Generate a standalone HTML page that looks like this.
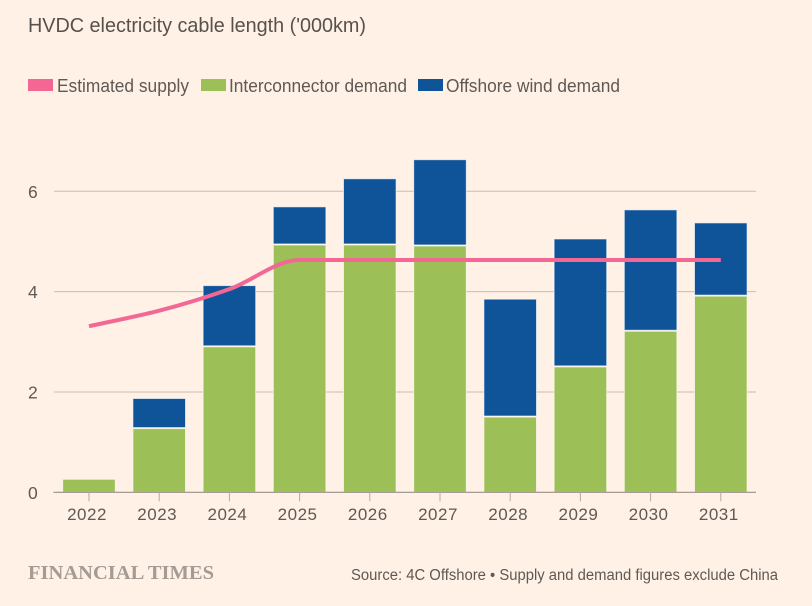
<!DOCTYPE html>
<html lang="en">
<head>
<meta charset="utf-8">
<title>HVDC electricity cable length</title>
<style>
html,body{margin:0;padding:0;background:#fff1e5;}
body{width:812px;height:606px;overflow:hidden;}
svg{display:block;font-family:"Liberation Sans",sans-serif;}
</style>
</head>
<body>
<svg id="chart" width="812" height="606" viewBox="0 0 812 606" xmlns="http://www.w3.org/2000/svg">
  <rect x="0" y="0" width="812" height="606" fill="#fff1e5"/>
  <text x="28" y="32" font-size="20" fill="#57514d" textLength="338" lengthAdjust="spacingAndGlyphs">HVDC electricity cable length ('000km)</text>
  <g>
    <g>
      <rect x="28" y="79" width="25" height="12" fill="#f36795"/>
      <text x="57" y="92" font-size="18.5" fill="#5f5955" textLength="132" lengthAdjust="spacingAndGlyphs">Estimated supply</text>
    </g>
    <g>
      <rect x="201" y="79" width="25" height="12" fill="#9dbf57"/>
      <text x="229" y="92" font-size="18.5" fill="#5f5955" textLength="178" lengthAdjust="spacingAndGlyphs">Interconnector demand</text>
    </g>
    <g>
      <rect x="418" y="79" width="25" height="12" fill="#0f5499"/>
      <text x="446" y="92" font-size="18.5" fill="#5f5955" textLength="174" lengthAdjust="spacingAndGlyphs">Offshore wind demand</text>
    </g>
  </g>
  <g id="grid"></g>
  <g id="ylabels"></g>
  <g id="bars"></g>
  <g id="xaxis"></g>
  <path id="supply" fill="none" stroke="#f36795" stroke-width="4"/>
  <text x="28" y="579" font-family="'Liberation Serif',serif" font-weight="bold" font-size="20.5" fill="#a39b94" textLength="186" lengthAdjust="spacingAndGlyphs">FINANCIAL TIMES</text>
  <text x="351" y="580" font-size="15.5" fill="#5f5955" textLength="427" lengthAdjust="spacingAndGlyphs">Source: 4C Offshore • Supply and demand figures exclude China</text>
</svg>
<script>
const years = ['2022','2023','2024','2025','2026','2027','2028','2029','2030','2031'];
const interconnector = [0.26,1.27,2.90,4.93,4.93,4.91,1.50,2.50,3.21,3.91];
const offshore = [0,0.60,1.22,0.76,1.32,1.72,2.35,2.55,2.42,1.46];
const supply = [3.31,3.62,4.05,4.63,4.63,4.63,4.63,4.63,4.63,4.63];
const yTicks = [0,2,4,6];

const SVGNS = 'http://www.w3.org/2000/svg';
const xBand = i => 89 + 70.2 * i;
const yScale = v => 492.3 - 50.17 * v;
const barWidth = 52.6;

function make(parent, tag, attrs, text) {
  const el = document.createElementNS(SVGNS, tag);
  for (const k in attrs) el.setAttribute(k, attrs[k]);
  if (text !== undefined) el.textContent = text;
  parent.appendChild(el);
  return el;
}

const grid = document.getElementById('grid');
const ylabels = document.getElementById('ylabels');
yTicks.forEach(t => {
  if (t !== 0) {
    const line = make(grid, 'line', {x1:54, x2:756, y1:yScale(t), y2:yScale(t), stroke:'#c9bcb1', 'stroke-width':1});
    
    
  }
  const label = make(ylabels, 'text', {x:28, y:yScale(t)+6.5, 'font-size':17.5, fill:'#5f5955'}, String(t));
  
  
});

const bars = document.getElementById('bars');
years.forEach((year, i) => {
  const left = xBand(i) - barWidth / 2;
  const gTop = yScale(interconnector[i]);
  const green = make(bars, 'rect', {x:left, y:gTop, width:barWidth, height:yScale(0)-gTop, fill:'#9dbf57', stroke:'#fff8ee', 'stroke-opacity':0.75, 'stroke-width':1});
  
  
  if (offshore[i] > 0) {
    const bTop = yScale(interconnector[i] + offshore[i]);
    const blue = make(bars, 'rect', {x:left, y:bTop, width:barWidth, height:gTop-bTop-1, fill:'#0f5499', stroke:'#ffffff', 'stroke-opacity':0.65, 'stroke-width':1});
    
    
  }
});

const xaxis = document.getElementById('xaxis');
const baseline = make(xaxis, 'line', {x1:53.5, x2:756, y1:yScale(0), y2:yScale(0), stroke:'#9a9089', 'stroke-width':1.2});


years.forEach((year, i) => {
  const tick = make(xaxis, 'line', {x1:xBand(i), x2:xBand(i), y1:yScale(0), y2:yScale(0)+9, stroke:'#b3a9a1', 'stroke-width':1});
  
  
  const label = make(xaxis, 'text', {x:xBand(i)-2, y:520, 'text-anchor':'middle', 'font-size':17, 'letter-spacing':0.5, fill:'#5f5955'}, year);
  
  
});

// Monotone cubic interpolation (Fritsch–Carlson) through the supply values
function monotonePath(xs, ys) {
  const n = xs.length, d = [], m = [];
  for (let i = 0; i < n - 1; i++) d.push((ys[i+1]-ys[i])/(xs[i+1]-xs[i]));
  m[0] = d[0];
  for (let i = 1; i < n - 1; i++) {
    m[i] = d[i-1]*d[i] <= 0 ? 0 : 2*d[i-1]*d[i]/(d[i-1]+d[i]);
  }
  m[n-1] = d[n-2];
  let p = 'M' + xs[0] + ',' + ys[0];
  for (let i = 0; i < n - 1; i++) {
    const h = (xs[i+1]-xs[i]) / 3;
    p += 'C' + (xs[i]+h) + ',' + (ys[i]+m[i]*h) + ' ' + (xs[i+1]-h) + ',' + (ys[i+1]-m[i+1]*h) + ' ' + xs[i+1] + ',' + ys[i+1];
  }
  return p;
}
document.getElementById('supply').setAttribute('d', monotonePath(years.map((_, i) => xBand(i)), supply.map(yScale)));
</script>
</body>
</html>
